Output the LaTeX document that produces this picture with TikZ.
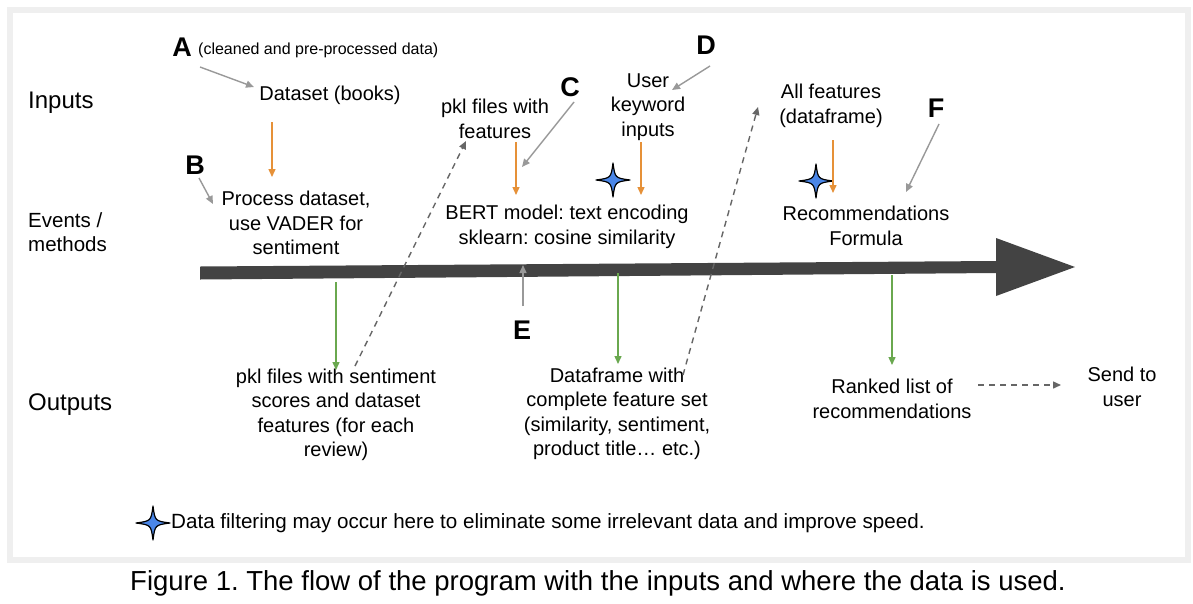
\documentclass[tikz,border=0pt]{standalone}
\usepackage{fontspec}
\setmainfont{Liberation Sans}
\usetikzlibrary{arrows.meta}
\definecolor{orng}{HTML}{E69138}
\definecolor{grn}{HTML}{6AA84F}
\definecolor{gryarr}{HTML}{999999}
\definecolor{dsh}{HTML}{666666}
\definecolor{bigarr}{HTML}{434343}
\definecolor{starblue}{HTML}{4A86E8}
\definecolor{framegray}{HTML}{EFEFEF}
\frenchspacing
\begin{document}
\begin{tikzpicture}[x=1pt,y=-1pt,
  txt/.style={align=center, inner sep=0pt, font=\fontsize{20}{24.5}\selectfont},
  rowlbl/.style={anchor=west, align=left, inner sep=0pt},
  letter/.style={inner sep=0pt, font=\fontsize{27}{27}\selectfont\bfseries},
  tip/.style={-{Triangle[length=8pt,width=7pt]}},
  orarr/.style={draw=orng, line width=1.4pt, tip},
  grarr/.style={draw=grn, line width=1.4pt, tip},
  gyarr/.style={draw=gryarr, line width=1.4pt, tip},
  dsarr/.style={draw=dsh, line width=1.4pt, dash pattern=on 6pt off 5pt, tip},
  fourstar/.pic={\draw[fill=starblue, line width=1.2pt, line join=round]
     (17,0) .. controls (2,2) .. (0,17) .. controls (-2,2) .. (-17,0)
     .. controls (-2,-2) .. (0,-17) .. controls (2,-2) .. cycle;}
]
\useasboundingbox (0,0) rectangle (1193,603);
\fill[white] (0,0) rectangle (1193,603);
\draw[framegray, line width=6pt] (9.5,9.5) rectangle (1188,559.5);

% big timeline arrow
\fill[bigarr] (200,266.5) -- (996,261) -- (996,238) -- (1075,267) -- (996,296) -- (996,273) -- (200,279.5) -- cycle;

% row labels
\node[rowlbl, font=\fontsize{24}{28}\selectfont] (inputs) at (28,103) {Inputs};
\node[rowlbl, font=\fontsize{20.5}{24.5}\selectfont] (events) at (28,232) {Events /\\methods};
\node[rowlbl, font=\fontsize{24}{28}\selectfont] (outputs) at (28,405) {Outputs};

% letters
\node[letter] (A) at (182,47) {A};
\node[anchor=west, inner sep=0pt, font=\fontsize{16}{18}\selectfont] (Anote) at (198,50) {(cleaned and pre-processed data)};
\node[letter] (B) at (195,165) {B};
\node[letter] (C) at (570,87) {C};
\node[letter] (D) at (706,45) {D};
\node[letter] (E) at (522,330) {E};
\node[letter] (F) at (936,108) {F};

% text nodes
\node[txt] (dataset) at (330,95) {Dataset (books)};
\node[txt] (process) at (296,223) {Process dataset,\\use VADER for\\sentiment};
\node[txt] (pklsent) at (336,415) {pkl files with sentiment\\scores and dataset\\features (for each\\review)};
\node[txt] (pklfeat) at (495,119) {pkl files with\\features};
\node[txt] (user) at (648,107) {User\\keyword\\inputs};
\node[txt] (bert) at (567,227) {BERT model: text encoding\\sklearn: cosine similarity};
\node[txt] (dataframe) at (617,414) {Dataframe with\\complete feature set\\(similarity, sentiment,\\product title… etc.)};
\node[txt] (allfeat) at (831,106) {All features\\(dataframe)};
\node[txt] (recform) at (866,226) {Recommendations\\Formula};
\node[txt] (ranked) at (892,399) {Ranked list of\\recommendations};
\node[txt] (send) at (1122,387) {Send to\\user};

% stars
\pic at (613,180) {fourstar};
\pic at (816,181) {fourstar};
\pic at (153,523) {fourstar};
\node[anchor=west, inner sep=0pt, font=\fontsize{20.6}{24}\selectfont] (legend) at (171,523) {Data filtering may occur here to eliminate some irrelevant data and improve speed.};

% caption
\node[inner sep=0pt, font=\fontsize{27.5}{30}\selectfont] (caption) at (598,583) {Figure 1. The flow of the program with the inputs and where the data is used.};

% connector end points
\coordinate (a1) at (200,67);   \coordinate (a2) at (254,87);
\coordinate (b1) at (199,178);  \coordinate (b2) at (213,204);
\coordinate (c1) at (574,102);  \coordinate (c2) at (522,167);
\coordinate (d1) at (710,66);   \coordinate (d2) at (672,90);
\coordinate (e1) at (523,306);  \coordinate (e2) at (523,265);
\coordinate (f1) at (939,124);  \coordinate (f2) at (906,192);
\coordinate (o1a) at (272,122); \coordinate (o1b) at (272,177);
\coordinate (o2a) at (516,142); \coordinate (o2b) at (516,195);
\coordinate (o3a) at (641,142); \coordinate (o3b) at (641,195);
\coordinate (o4a) at (833,140); \coordinate (o4b) at (833,193);
\coordinate (g1a) at (336,282); \coordinate (g1b) at (336,370);
\coordinate (g2a) at (618,273); \coordinate (g2b) at (618,364);
\coordinate (g3a) at (892,275); \coordinate (g3b) at (892,365);
\coordinate (s1a) at (355,366); \coordinate (s1b) at (466,141);
\coordinate (s2a) at (683,375); \coordinate (s2b) at (758,107);
\coordinate (s3a) at (978,385); \coordinate (s3b) at (1061,385);

% gray letter arrows
\draw[gyarr] (a1) -- (a2);
\draw[gyarr] (b1) -- (b2);
\draw[gyarr] (c1) -- (c2);
\draw[gyarr] (d1) -- (d2);
\draw[gyarr] (e1) -- (e2);
\draw[gyarr] (f1) -- (f2);

% orange inputs arrows
\draw[orarr] (o1a) -- (o1b);
\draw[orarr] (o2a) -- (o2b);
\draw[orarr] (o3a) -- (o3b);
\draw[orarr] (o4a) -- (o4b);

% green outputs arrows
\draw[grarr] (g1a) -- (g1b);
\draw[grarr] (g2a) -- (g2b);
\draw[grarr] (g3a) -- (g3b);

% dashed arrows
\draw[dsarr] (s1a) -- (s1b);
\draw[dsarr] (s2a) -- (s2b);
\draw[dsarr] (s3a) -- (s3b);
\end{tikzpicture}
\end{document}
